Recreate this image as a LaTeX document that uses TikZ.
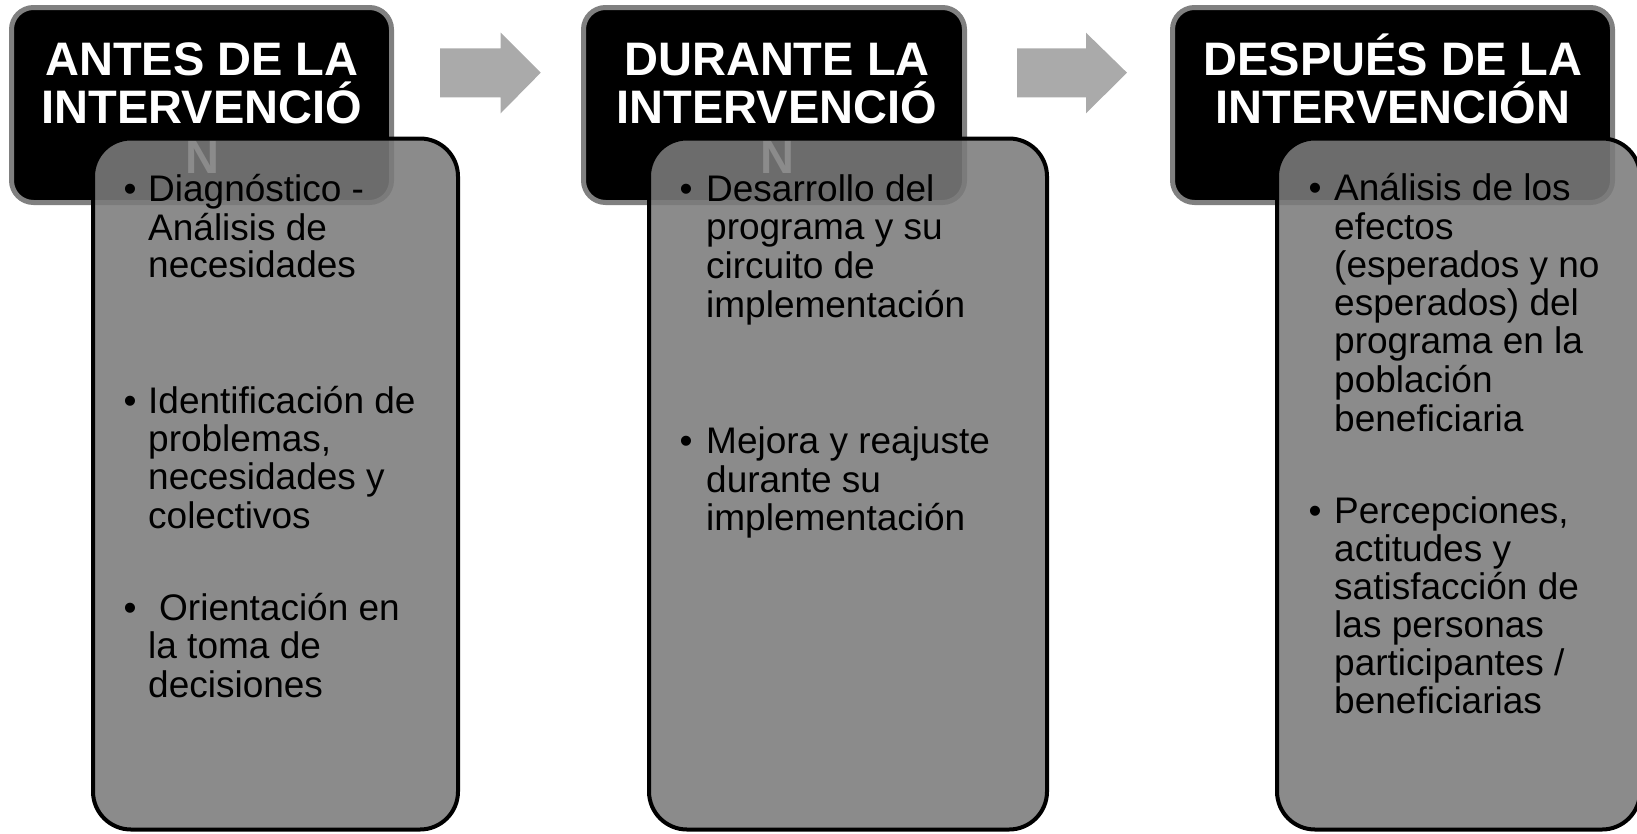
\documentclass[tikz,border=0pt]{standalone}
\usepackage{fontspec}
\setmainfont{Liberation Sans}
\definecolor{hdrgray}{RGB}{128,128,128}
\definecolor{bodygray}{RGB}{123,123,123}
\definecolor{arrowgray}{RGB}{170,170,170}
\begin{document}
\begin{tikzpicture}[x=1pt,y=-1pt,
  hdr/.style={draw=hdrgray, line width=5pt, fill=black, rounded corners=22pt, inner sep=0pt},
  body/.style={draw=black, line width=4pt, fill=bodygray, fill opacity=0.88, rounded corners=38pt, inner sep=0pt},
  htxt/.style={text=white, font=\fontsize{47}{50}\selectfont\bfseries, anchor=base, inner sep=0pt},
  btxt/.style={text=black, font=\fontsize{37}{40}\selectfont, anchor=base west, inner sep=0pt},
  bul/.style={text=black, font=\fontsize{37}{40}\selectfont, anchor=base, inner sep=0pt},
  blk/.style={fill=arrowgray, draw=none}]
\useasboundingbox (0,0) rectangle (1637,833);

% block arrows
\fill[blk] (440,48.3) -- (500.7,48.3) -- (500.7,32.7) -- (540.7,72.7) -- (500.7,113.3) -- (500.7,97.3) -- (440,97.3) -- cycle;
\fill[blk] (1017,48.3) -- (1086,48.3) -- (1086,32.7) -- (1127,72.7) -- (1086,113.3) -- (1086,97.3) -- (1017,97.3) -- cycle;

% column 1
\node[hdr, minimum width=380pt, minimum height=195pt] (h1) at (201.5,105) {};
\node[htxt] (h1a) at (202,75) {ANTES DE LA};
\node[htxt] (h1b) at (202,123.5) {INTERVENCIÓ};
\node[htxt] (h1c) at (202,173) {N};
\node[body, minimum width=365pt, minimum height=691pt] (b1) at (275.5,484) {};
\node[bul] (b1p1) at (130,201.5) {•};
\node[bul] (b1p2) at (130,413) {•};
\node[bul] (b1p3) at (130,620) {•};
\foreach [count=\i] \t/\y in {{Diagnóstico -}/201.5, {Análisis de}/240, {necesidades}/277,
  {Identificación de}/413, {problemas,}/451, {necesidades y}/489.5, {colectivos}/528,
  {la toma de}/658, {decisiones}/697}
  { \node[btxt] (c1l\i) at (148,\y) {\t}; }
\node[btxt] (c1o) at (159,620) {Orientación en};

% column 2
\node[hdr, minimum width=381pt, minimum height=195pt] (h2) at (774,105) {};
\node[htxt] (h2a) at (777,75) {DURANTE LA};
\node[htxt] (h2b) at (777,123.5) {INTERVENCIÓ};
\node[htxt] (h2c) at (777,173) {N};
\node[body, minimum width=398pt, minimum height=691pt] (b2) at (848,484) {};
\node[bul] (b2p1) at (686,201) {•};
\node[bul] (b2p2) at (686,453) {•};
\foreach [count=\i] \t/\y in {{Desarrollo del}/201, {programa y su}/239.5, {circuito de}/278,
  {implementación}/317, {Mejora y reajuste}/453, {durante su}/492, {implementación}/530}
  { \node[btxt] (c2l\i) at (706,\y) {\t}; }

% column 3
\node[hdr, minimum width=440pt, minimum height=195pt] (h3) at (1392.5,105) {};
\node[htxt] (h3a) at (1393,75) {DESPUÉS DE LA};
\node[htxt] (h3b) at (1393,123.5) {INTERVENCIÓN};
\node[body, minimum width=363pt, minimum height=691pt] (b3) at (1458.5,484) {};
\node[bul] (b3p1) at (1315,200) {•};
\node[bul] (b3p2) at (1315,523) {•};
\foreach [count=\i] \t/\y in {{Análisis de los}/200, {efectos}/239, {(esperados y no}/277,
  {esperados) del}/315, {programa en la}/353, {población}/392, {beneficiaria}/431,
  {Percepciones,}/523, {actitudes y}/561, {satisfacción de}/599, {las personas}/637,
  {participantes /}/675, {beneficiarias}/713}
  { \node[btxt] (c3l\i) at (1334,\y) {\t}; }
\end{tikzpicture}
\end{document}
